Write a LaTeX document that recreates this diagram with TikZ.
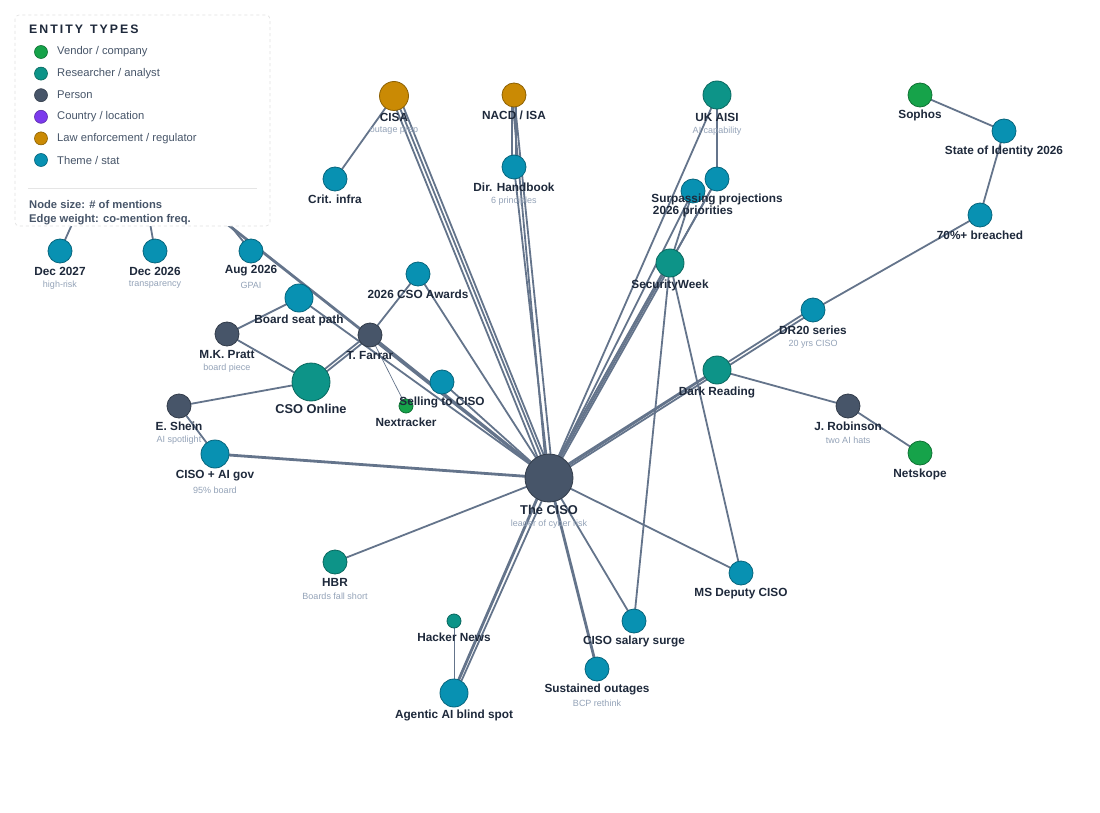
\documentclass[tikz,border=0pt]{standalone}
\usepackage{fontspec}
\setmainfont{Liberation Sans}
\begin{document}
\begin{tikzpicture}[x=1pt,y=-1pt,
  ed/.style={draw=edgec,line width=1.8pt},
  edk/.style={draw=edgec,line width=2.8pt},
  edt/.style={draw=edgec,line width=0.7pt},
  lb/.style={font=\bfseries\fontsize{11.8}{12}\selectfont,text=labc,inner sep=1pt},
  sb/.style={font=\fontsize{9}{10}\selectfont,text=subc,inner sep=1pt}]
\definecolor{vend}{HTML}{16A34A}
\definecolor{res}{HTML}{0D9488}
\definecolor{per}{HTML}{475569}
\definecolor{loc}{HTML}{7C3AED}
\definecolor{law}{HTML}{CA8A04}
\definecolor{thm}{HTML}{0891B2}
\definecolor{edgec}{HTML}{64748B}
\definecolor{labc}{HTML}{1E293B}
\definecolor{subc}{HTML}{94A3B8}
\useasboundingbox (0,0) rectangle (1100,813);
\fill[white] (0,0) rectangle (1100,813);
% hidden nodes behind legend
\coordinate (eu) at (128,100);
\coordinate (eu2) at (70,100);
% node positions
\foreach \n/\x/\y in {ciso/549/478,cso/311/382,cisa/394/96,nacd/514/95,dirh/514/167,crit/335/179,aisi/717/95,surp/717/179,prio/693/191,sw/670/263,sophos/920/95,soi/1004/131,br/980/215,dr20/813/310,dark/717/370,jr/848/406,netskope/920/453,msd/741/573,sal/634/621,sust/597/669,agen/454/693,hn/454/621,hbr/335/562,aigov/215/454,shein/179/406,pratt/227/334,board/299/298,farrar/370/335,awards/418/274,sell/442/382,nxt/406/406,d27/60/251,d26/155/251,a26/251/251}
  \coordinate (\n) at (\x,\y);
% edges
\path[ed] (eu) -- (d27) (eu) -- (d26) (eu) -- (a26);
\path[edk] (eu2) -- (ciso);
\path[ed] (cisa) -- (crit);
\path[ed] ([xshift=-3pt]cisa) -- ([xshift=-3pt]ciso);
\path[ed] ([xshift=1pt]cisa) -- ([xshift=1pt]ciso);
\path[ed] ([xshift=5pt]cisa) -- ([xshift=4pt]ciso);
\path[ed] ([xshift=-2pt]nacd) -- ([xshift=-2pt]dirh);
\path[ed] ([xshift=2pt]nacd) -- ([xshift=2pt]dirh);
\path[ed] (nacd) -- ([xshift=4pt]ciso);
\path[ed] ([xshift=-2pt]nacd) -- ([xshift=-2pt]ciso);
\path[ed] (dirh) -- (ciso);
\path[ed] (aisi) -- (surp) (aisi) -- (ciso);
\path[ed] (surp) -- (ciso) (prio) -- (ciso);
\path[ed] (surp) -- (sw) (prio) -- (sw);
\path[ed] ([xshift=-2pt]sw) -- ([xshift=-2pt]ciso);
\path[ed] ([xshift=2pt]sw) -- ([xshift=2pt]ciso);
\path[ed] (sw) -- (msd) (sw) -- (sal);
\path[ed] (sophos) -- (soi) (soi) -- (br) (br) -- (dr20);
\path[ed] ([yshift=-2pt]dr20) -- ([yshift=-2pt]ciso);
\path[ed] ([yshift=2pt]dr20) -- ([yshift=2pt]ciso);
\path[ed] (dark) -- (ciso) (dark) -- (jr) (jr) -- (netskope);
\path[ed] (ciso) -- (msd) (ciso) -- (sal);
\path[edk] (ciso) -- (sust);
\path[edk] ([xshift=-3pt]ciso) -- ([xshift=-1pt]agen);
\path[ed] ([xshift=3pt]ciso) -- ([xshift=2pt]agen);
\path[edt] (hn) -- (agen);
\path[ed] (ciso) -- (hbr);
\path[edk] (ciso) -- (aigov);
\path[ed] (shein) -- (aigov) (shein) -- (cso);
\path[ed] (pratt) -- (cso) (pratt) -- (board);
\path[ed] ([yshift=-2pt]cso) -- ([yshift=-2pt]farrar);
\path[ed] ([yshift=2pt]cso) -- ([yshift=2pt]farrar);
\path[ed] (board) -- (ciso);
\path[ed] (farrar) -- (awards) (awards) -- (ciso);
\path[edk] (farrar) -- (ciso);
\path[edt] (farrar) -- (nxt);
\path[ed] (sell) -- (ciso);
% node discs
\foreach \n/\c/\r in {ciso/per/24,cso/res/19,cisa/law/14.5,nacd/law/12,dirh/thm/12,crit/thm/12,aisi/res/14,surp/thm/12,prio/thm/12,sw/res/14,sophos/vend/12,soi/thm/12,br/thm/12,dr20/thm/12,dark/res/14,jr/per/12,netskope/vend/12,msd/thm/12,sal/thm/12,sust/thm/12,agen/thm/14,hn/res/7,hbr/res/12,aigov/thm/14,shein/per/12,pratt/per/12,board/thm/14,farrar/per/12,awards/thm/12,sell/thm/12,nxt/vend/7,d27/thm/12,d26/thm/12,a26/thm/12}
  \path[fill=\c,draw=\c!70!black,line width=0.8pt] (\n) circle[radius=\r];
% labels
\node[lb,font=\bfseries\fontsize{12.8}{13}\selectfont] (lciso) at (549,510) {The CISO};
\node[sb] (sciso) at (549,524) {leader of cyber risk};
\node[lb,font=\bfseries\fontsize{12.8}{13}\selectfont] (lcso) at (311,409) {CSO Online};
\node[lb] (l1) at (394,117) {CISA}; \node[sb] (s1) at (394,131) {outage prep};
\node[lb] (l2) at (514,115) {NACD / ISA};
\node[lb] (l3) at (514,187) {Dir. Handbook}; \node[sb] (s3) at (514,201) {6 principles};
\node[lb] (l4) at (335,199) {Crit. infra};
\node[lb] (l5) at (717,117) {UK AISI}; \node[sb] (s5) at (717,131) {AI capability};
\node[lb] (l6) at (717,199) {Surpassing projections};
\node[lb] (l7) at (693,211) {2026 priorities};
\node[lb] (l8) at (670,285) {SecurityWeek};
\node[lb] (l9) at (920,115) {Sophos};
\node[lb] (l10) at (1004,151) {State of Identity 2026};
\node[lb] (l11) at (980,235) {70\%+ breached};
\node[lb] (l12) at (813,330) {DR20 series}; \node[sb] (s12) at (813,344) {20 yrs CISO};
\node[lb] (l13) at (717,392) {Dark Reading};
\node[lb] (l14) at (848,426) {J. Robinson}; \node[sb] (s14) at (848,440) {two AI hats};
\node[lb] (l15) at (920,474) {Netskope};
\node[lb] (l16) at (741,594) {MS Deputy CISO};
\node[lb] (l17) at (634,641) {CISO salary surge};
\node[lb] (l18) at (597,689) {Sustained outages}; \node[sb] (s18) at (597,703) {BCP rethink};
\node[lb] (l19) at (454,715) {Agentic AI blind spot};
\node[lb] (l20) at (454,637) {Hacker News};
\node[lb] (l21) at (335,582) {HBR}; \node[sb] (s21) at (335,596) {Boards fall short};
\node[lb] (l22) at (215,476) {CISO + AI gov}; \node[sb] (s22) at (215,490) {95\% board};
\node[lb] (l23) at (179,426) {E. Shein}; \node[sb] (s23) at (179,440) {AI spotlight};
\node[lb] (l24) at (227,354) {M.K. Pratt}; \node[sb] (s24) at (227,368) {board piece};
\node[lb] (l25) at (299,320) {Board seat path};
\node[lb] (l26) at (370,355) {T. Farrar};
\node[lb] (l27) at (418,294) {2026 CSO Awards};
\node[lb] (l28) at (442,402) {Selling to CISO};
\node[lb] (l29) at (406,422) {Nextracker};
\node[lb] (l30) at (60,271) {Dec 2027}; \node[sb] (s30) at (60,285) {high-risk};
\node[lb] (l31) at (155,271) {Dec 2026}; \node[sb] (s31) at (155,285) {transparency};
\node[lb] (l32) at (251,271) {Aug 2026}; \node[sb] (s32) at (251,285) {GPAI};
% legend
\path[fill=white,draw=black!12,dashed,rounded corners=4pt,line width=0.6pt] (15,15) rectangle (270,226);
\node[anchor=west,font=\bfseries\fontsize{12.3}{13}\selectfont,text=labc,inner sep=0pt] (lgt) at (29,29) {E\,N\,T\,I\,T\,Y\ \ T\,Y\,P\,E\,S};
\foreach \c/\t [count=\i] in {vend/{Vendor / company},res/{Researcher / analyst},per/{Person},loc/{Country / location},law/{Law enforcement / regulator},thm/{Theme / stat}}{
  \path[fill=\c,draw=\c!70!black,line width=0.6pt] (41,52+21.6*\i-21.6) circle[radius=6.5];
  \node[anchor=west,font=\fontsize{11.2}{12}\selectfont,text=per,inner sep=0pt] at (57,52+21.6*\i-21.6) {\t};
}
\draw[black!10,line width=0.8pt] (28,188) -- (257,188);
\node[anchor=west,font=\bfseries\fontsize{11.2}{12}\selectfont,text=per,inner sep=0pt] (lg1) at (29,204) {Node size: \# of mentions};
\node[anchor=west,font=\bfseries\fontsize{11.2}{12}\selectfont,text=per,inner sep=0pt] (lg2) at (29,220) {Edge weight: co-mention freq.};
\end{tikzpicture}
\end{document}
